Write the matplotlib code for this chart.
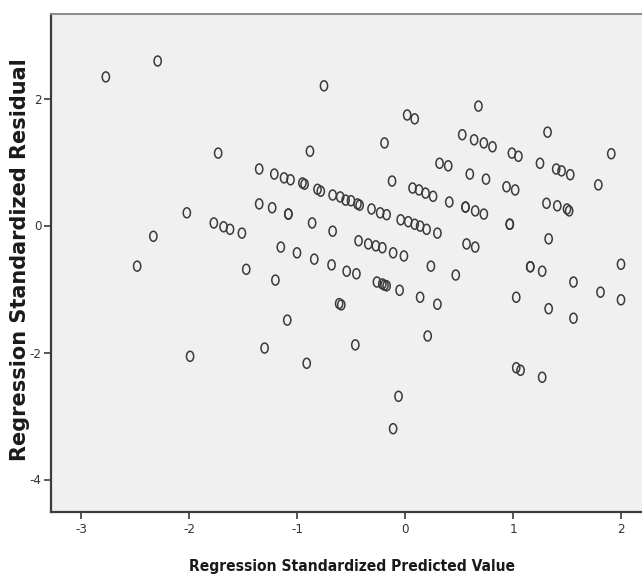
import matplotlib
matplotlib.use("Agg")
import matplotlib.pyplot as plt
from matplotlib import font_manager as fm
from matplotlib.path import Path
from matplotlib.transforms import Affine2D

# Regression standardized predicted value (x) and residual (y)
pred = [
    -2.77, -2.29, -0.75, 0.02, 0.09, 0.68, -1.73, -0.88, -0.19, 1.32,
    0.53, 0.64, 0.73, 0.81, 0.99, 1.05, 1.91, 0.32, 0.40, 0.60,
    0.75, 1.25, 1.40, 1.45, 1.53, 1.79, -0.12, 0.94, 1.02,
    -1.35, -1.21, -1.12, -1.06, -0.95, -0.93, -0.81, -0.78, -0.67, -0.60,
    -0.55, -0.50, -0.44, -0.42, -0.31, -0.23, -0.17,
    0.07, 0.13, 0.19, 0.26, 0.41, 0.56, 0.56, 0.65, 0.73,
    1.31, 1.41, 1.50, 1.52, 0.97, 0.97,
    -0.04, 0.03, 0.09, 0.14, 0.20, 0.30, -0.67, -0.86,
    -1.35, -1.23, -1.08, -1.08, -2.02, -1.77, -1.68, -1.62, -1.51, -2.33,
    -0.43, -0.34, -0.27, -0.21, -0.11, -0.01, 0.57, 0.65, 1.33,
    -1.15, -1.00, -0.84, -0.68, -0.54, -0.45, -2.48, -1.47, -1.20,
    0.24, 0.47, 1.16, 1.16, 1.27, 2.00, 1.56, 1.81, 2.00, 1.03,
    -0.26, -0.21, -0.19, -0.17, -0.05, 0.14, 0.30, -0.61, -0.59,
    1.33, 1.56, -1.09, 0.21, -0.46, -1.30, -0.91, -1.99,
    1.03, 1.07, 1.27, -0.06, -0.11,
]
resid = [
    2.34, 2.59, 2.20, 1.74, 1.68, 1.88, 1.14, 1.17, 1.30, 1.47,
    1.43, 1.35, 1.30, 1.24, 1.14, 1.09, 1.13, 0.98, 0.94, 0.81,
    0.73, 0.98, 0.89, 0.86, 0.80, 0.64, 0.70, 0.61, 0.56,
    0.89, 0.81, 0.75, 0.72, 0.67, 0.65, 0.57, 0.54, 0.48, 0.45,
    0.40, 0.39, 0.34, 0.32, 0.26, 0.20, 0.17,
    0.59, 0.56, 0.51, 0.46, 0.37, 0.29, 0.29, 0.23, 0.18,
    0.35, 0.31, 0.26, 0.23, 0.02, 0.02,
    0.09, 0.06, 0.02, -0.01, -0.06, -0.12, -0.09, 0.04,
    0.34, 0.28, 0.18, 0.18, 0.20, 0.04, -0.02, -0.06, -0.12, -0.17,
    -0.24, -0.29, -0.32, -0.35, -0.43, -0.48, -0.29, -0.34, -0.21,
    -0.34, -0.43, -0.53, -0.62, -0.72, -0.76, -0.64, -0.69, -0.86,
    -0.64, -0.78, -0.65, -0.65, -0.72, -0.61, -0.89, -1.05, -1.17, -1.13,
    -0.89, -0.92, -0.94, -0.95, -1.02, -1.13, -1.24, -1.23, -1.25,
    -1.31, -1.46, -1.49, -1.74, -1.88, -1.93, -2.17, -2.06,
    -2.24, -2.28, -2.39, -2.69, -3.20,
]

x_ticks = [-3, -2, -1, 0, 1, 2]
y_ticks = [-4, -2, 0, 2]
x_label = "Regression Standardized Predicted Value"
y_label = "Regression Standardized Residual"


def find_condensed(bold):
    best = None
    for f in fm.fontManager.ttflist:
        name = (f.fname + " " + f.name).lower()
        if ("narrow" in name or "condensed" in name) and "oblique" not in name and "italic" not in name:
            isbold = "bold" in name or (isinstance(f.weight, int) and f.weight >= 600) or f.weight == "bold"
            if isbold == bold:
                score = 0 if ("liberation" in name or "arial" in name) else 1
                if best is None or score < best[0]:
                    best = (score, f.fname)
    return best[1] if best else None


def props(bold, size):
    path = find_condensed(bold)
    if path:
        return fm.FontProperties(fname=path, size=size)
    return fm.FontProperties(family="DejaVu Sans", weight="bold" if bold else "normal",
                             size=size * 0.8)


W, H = 642, 580
fig = plt.figure(figsize=(W / 100, H / 100), dpi=100)
fig.patch.set_facecolor("white")

left, right, top, bottom = 51, 642, 14, 512
ax = fig.add_axes([left / W, 1 - bottom / H, (right - left) / W, (bottom - top) / H])
ax.set_facecolor("#f0f0f0")

# x: 0 at px 405, 108 px per unit ; y: 0 at px 225.5, 63.5 px per unit
ax.set_xlim((left - 405) / 108, (right - 405) / 108)
ax.set_ylim((225.5 - bottom) / 63.5, (225.5 - top) / 63.5)

oval = Path.unit_circle().transformed(Affine2D().scale(0.72, 1.0))
ax.scatter(pred, resid, marker=oval, s=52, facecolors="none",
           edgecolors="#3a3a3a", linewidths=1.1, zorder=3)

for s in ["left", "bottom"]:
    ax.spines[s].set_color("#3c3c3c")
    ax.spines[s].set_linewidth(1.6)
ax.spines["top"].set_color("#8a8a8a")
ax.spines["top"].set_linewidth(1.4)
ax.spines["right"].set_visible(False)

tick_fp = props(False, 9.5)
ax.set_xticks(x_ticks)
ax.set_yticks(y_ticks)
ax.set_xticklabels([str(t) for t in x_ticks], fontproperties=tick_fp, color="#333333")
ax.set_yticklabels([str(t) for t in y_ticks], fontproperties=tick_fp, color="#333333")
ax.tick_params(axis="both", direction="out", length=5, width=1.2, color="#3c3c3c")
ax.tick_params(axis="x", pad=3)
ax.tick_params(axis="y", pad=2)

fig.text(352 / W, 1 - 567 / H, x_label, fontproperties=props(True, 11.2),
         color="#1a1a1a", ha="center", va="center")
fig.text(20 / W, 1 - 260 / H, y_label, family=["DejaVu Sans"], fontweight="bold",
         fontsize=15, color="#1a1a1a", ha="center", va="center", rotation=90)

fig.savefig("out.png", dpi=100)
